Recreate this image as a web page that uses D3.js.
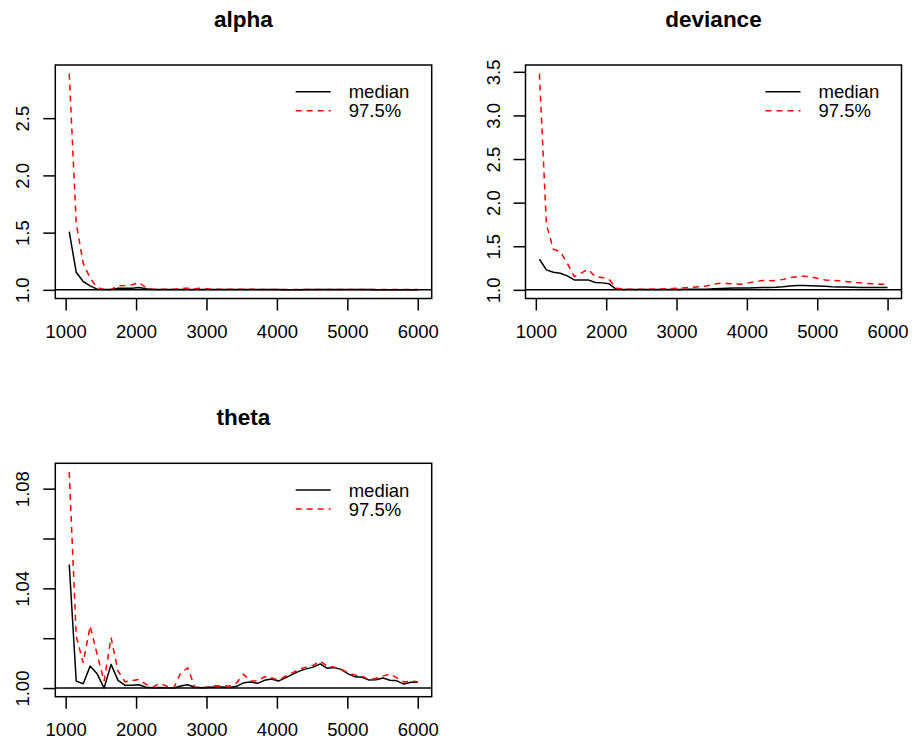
<!DOCTYPE html>
<html>
<head>
<meta charset="utf-8">
<script src="https://cdn.jsdelivr.net/npm/d3@7"></script>
<style>
  html, body { margin: 0; padding: 0; background: #ffffff; }
  svg { display: block; }
  text { font-family: "Liberation Sans", Arial, Helvetica, sans-serif; fill: #000; }
</style>
</head>
<body>
<script>
// ---------------- DATA ----------------
const iterations = [1051,1150,1249,1348,1447,1546,1645,1744,1843,1942,2041,2140,2239,2338,2437,2536,2635,2734,2833,2932,3031,3130,3229,3328,3427,3526,3625,3724,3823,3922,4021,4120,4219,4318,4417,4516,4615,4714,4813,4912,5011,5110,5209,5308,5407,5506,5605,5704,5803,5902,6000];

const alphaMedian = [1.508,1.154,1.073,1.035,1.006,1.003,1.003,1.015,1.015,1.015,1.020,1.010,1.004,1.003,1.003,1.004,1.004,1.003,1.004,1.004,1.003,1.003,1.002,1.002,1.003,1.002,1.002,1.002,1.002,1.002,1.002,1.001,1.001,1.001,1.002,1.002,1.002,1.002,1.002,1.002,1.002,1.002,1.002,1.002,1.001,1.001,1.001,1.001,1.001,1.001,1.001];
const alphaUpper = [2.889,1.581,1.233,1.102,1.020,1.003,1.003,1.035,1.038,1.044,1.064,1.020,1.006,1.005,1.006,1.005,1.012,1.015,1.010,1.014,1.008,1.006,1.005,1.005,1.006,1.005,1.005,1.004,1.004,1.004,1.004,1.004,1.004,1.004,1.004,1.004,1.004,1.004,1.004,1.004,1.004,1.004,1.004,1.004,1.003,1.003,1.003,1.003,1.003,1.003,1.004];

const devianceMedian = [1.351,1.229,1.202,1.191,1.160,1.114,1.114,1.114,1.084,1.080,1.069,1.008,1.003,1.003,1.003,1.003,1.003,1.004,1.004,1.005,1.005,1.006,1.006,1.007,1.008,1.012,1.015,1.018,1.020,1.020,1.022,1.025,1.026,1.027,1.030,1.036,1.044,1.049,1.050,1.048,1.045,1.040,1.035,1.033,1.032,1.030,1.028,1.027,1.026,1.027,1.027];
const devianceUpper = [3.479,1.750,1.466,1.438,1.305,1.152,1.191,1.236,1.152,1.141,1.122,1.019,1.011,1.008,1.006,1.006,1.007,1.010,1.012,1.015,1.020,1.025,1.030,1.035,1.045,1.064,1.076,1.072,1.068,1.064,1.080,1.095,1.107,1.105,1.107,1.120,1.140,1.152,1.156,1.150,1.130,1.114,1.110,1.103,1.095,1.088,1.080,1.073,1.069,1.065,1.065];

const thetaMedian = [1.0496,1.0028,1.0017,1.0088,1.0057,1.0000,1.0095,1.0031,1.0011,1.0011,1.0013,1.0003,1.0001,1.0002,1.0001,1.0000,1.0008,1.0013,1.0003,1.0001,1.0003,1.0004,1.0004,1.0002,1.0007,1.0021,1.0024,1.0019,1.0031,1.0036,1.0028,1.0041,1.0055,1.0068,1.0077,1.0084,1.0097,1.0079,1.0082,1.0075,1.0057,1.0045,1.0043,1.0032,1.0033,1.0040,1.0031,1.0029,1.0016,1.0023,1.0023];
const thetaUpper = [1.0867,1.0208,1.0101,1.0249,1.0135,1.0028,1.0202,1.0068,1.0025,1.0030,1.0035,1.0015,1.0004,1.0019,1.0007,1.0001,1.0061,1.0081,1.0004,1.0001,1.0004,1.0009,1.0008,1.0008,1.0021,1.0055,1.0028,1.0028,1.0045,1.0041,1.0031,1.0048,1.0061,1.0075,1.0084,1.0091,1.0108,1.0088,1.0084,1.0075,1.0061,1.0052,1.0048,1.0033,1.0039,1.0048,1.0057,1.0041,1.0024,1.0028,1.0025];

const xTicks = [1000,2000,3000,4000,5000,6000];
const alphaTicks = [1.0,1.5,2.0,2.5];
const alphaTickLabels = ["1.0","1.5","2.0","2.5"];
const devianceTicks = [1.0,1.5,2.0,2.5,3.0,3.5];
const devianceTickLabels = ["1.0","1.5","2.0","2.5","3.0","3.5"];
const thetaTicks = [1.00,1.02,1.04,1.06,1.08];
const thetaTickLabels = ["1.00","","1.04","","1.08"];

const panelNames = ["alpha","deviance","theta"];
const legendLabels = ["median","97.5%"];

// ---------------- LAYOUT ----------------
const W = 914, H = 747;
const boxes = [
  {x0: 55.3, x1: 431.7, y0: 65, y1: 298.5},
  {x0: 525.5, x1: 901.5, y0: 65, y1: 298.5},
  {x0: 55.3, x1: 431.7, y0: 463.3, y1: 696.7}
];
const panels = [
  {name: panelNames[0], med: alphaMedian, upr: alphaUpper, ticks: alphaTicks, labels: alphaTickLabels, box: boxes[0]},
  {name: panelNames[1], med: devianceMedian, upr: devianceUpper, ticks: devianceTicks, labels: devianceTickLabels, box: boxes[1]},
  {name: panelNames[2], med: thetaMedian, upr: thetaUpper, ticks: thetaTicks, labels: thetaTickLabels, box: boxes[2]}
];

const svg = d3.select("body").append("svg").attr("width", W).attr("height", H);
svg.append("rect").attr("width", W).attr("height", H).attr("fill", "#fff");

const FS = 18.5, LW = 1.5;

function ext(lo, hi) { const d = (hi - lo) * 0.04; return [lo - d, hi + d]; }

panels.forEach((p, k) => {
  const b = p.box;
  const g = svg.append("g");
  const xDom = ext(d3.min(iterations), d3.max(iterations));
  const x = d3.scaleLinear().domain(xDom).range([b.x0, b.x1]);
  const yMax = Math.max(1, d3.max(p.med), d3.max(p.upr));
  const y = d3.scaleLinear().domain(ext(1, yMax)).range([b.y1, b.y0]);

  const clipId = "clip" + k;
  g.append("clipPath").attr("id", clipId).append("rect")
    .attr("x", b.x0).attr("y", b.y0).attr("width", b.x1 - b.x0).attr("height", b.y1 - b.y0);

  const line = d3.line().x((d, i) => x(iterations[i])).y(d => y(d));

  const pl = g.append("g").attr("clip-path", `url(#${clipId})`);
  pl.append("path").datum(p.med).attr("d", line)
    .attr("fill", "none").attr("stroke", "#000").attr("stroke-width", LW).attr("stroke-linejoin", "round");
  pl.append("path").datum(p.upr).attr("d", line)
    .attr("fill", "none").attr("stroke", "#ff0000").attr("stroke-width", LW)
    .attr("stroke-dasharray", "6,5");
  pl.append("line").attr("x1", b.x0).attr("x2", b.x1).attr("y1", y(1)).attr("y2", y(1))
    .attr("stroke", "#000").attr("stroke-width", LW);

  // box
  g.append("rect").attr("x", b.x0).attr("y", b.y0).attr("width", b.x1 - b.x0).attr("height", b.y1 - b.y0)
    .attr("fill", "none").attr("stroke", "#000").attr("stroke-width", LW);

  // x axis
  const xa = g.append("g").attr("transform", `translate(0,${b.y1})`)
    .call(d3.axisBottom(x).tickValues(xTicks).tickSize(12).tickPadding(0).tickFormat(d3.format("d")));
  xa.select(".domain").remove();
  xa.selectAll(".tick line").attr("stroke", "#000").attr("stroke-width", LW);
  xa.selectAll(".tick text").attr("font-size", FS).attr("font-family", "Liberation Sans, Arial, sans-serif")
    .attr("dy", null).attr("y", 39.5).attr("fill", "#000");

  // y axis
  const ya = g.append("g").attr("transform", `translate(${b.x0},0)`)
    .call(d3.axisLeft(y).tickValues(p.ticks).tickSize(12).tickFormat((d, i) => p.labels[i]));
  ya.select(".domain").remove();
  ya.selectAll(".tick line").attr("stroke", "#000").attr("stroke-width", LW);
  ya.selectAll(".tick text").attr("font-size", FS).attr("font-family", "Liberation Sans, Arial, sans-serif")
    .attr("x", null).attr("dy", null).attr("text-anchor", "middle")
    .attr("transform", "translate(-26,0) rotate(-90)").attr("fill", "#000");

  // title
  g.append("text").attr("x", (b.x0 + b.x1) / 2).attr("y", b.y0 - 38)
    .attr("text-anchor", "middle").attr("font-weight", "bold").attr("font-size", 22.5)
    .text(p.name);

  // legend
  const ly1 = b.y0 + 26.7, ly2 = b.y0 + 45.7;
  g.append("line").attr("x1", b.x1 - 136).attr("x2", b.x1 - 101).attr("y1", ly1).attr("y2", ly1)
    .attr("stroke", "#000").attr("stroke-width", LW);
  g.append("line").attr("x1", b.x1 - 136).attr("x2", b.x1 - 101).attr("y1", ly2).attr("y2", ly2)
    .attr("stroke", "#ff0000").attr("stroke-width", LW).attr("stroke-dasharray", "6,5");
  g.append("text").attr("x", b.x1 - 83).attr("y", ly1 + 6.7).attr("font-size", FS).text(legendLabels[0]);
  g.append("text").attr("x", b.x1 - 83).attr("y", ly2 + 6.7).attr("font-size", FS).text(legendLabels[1]);
});
</script>
</body>
</html>
